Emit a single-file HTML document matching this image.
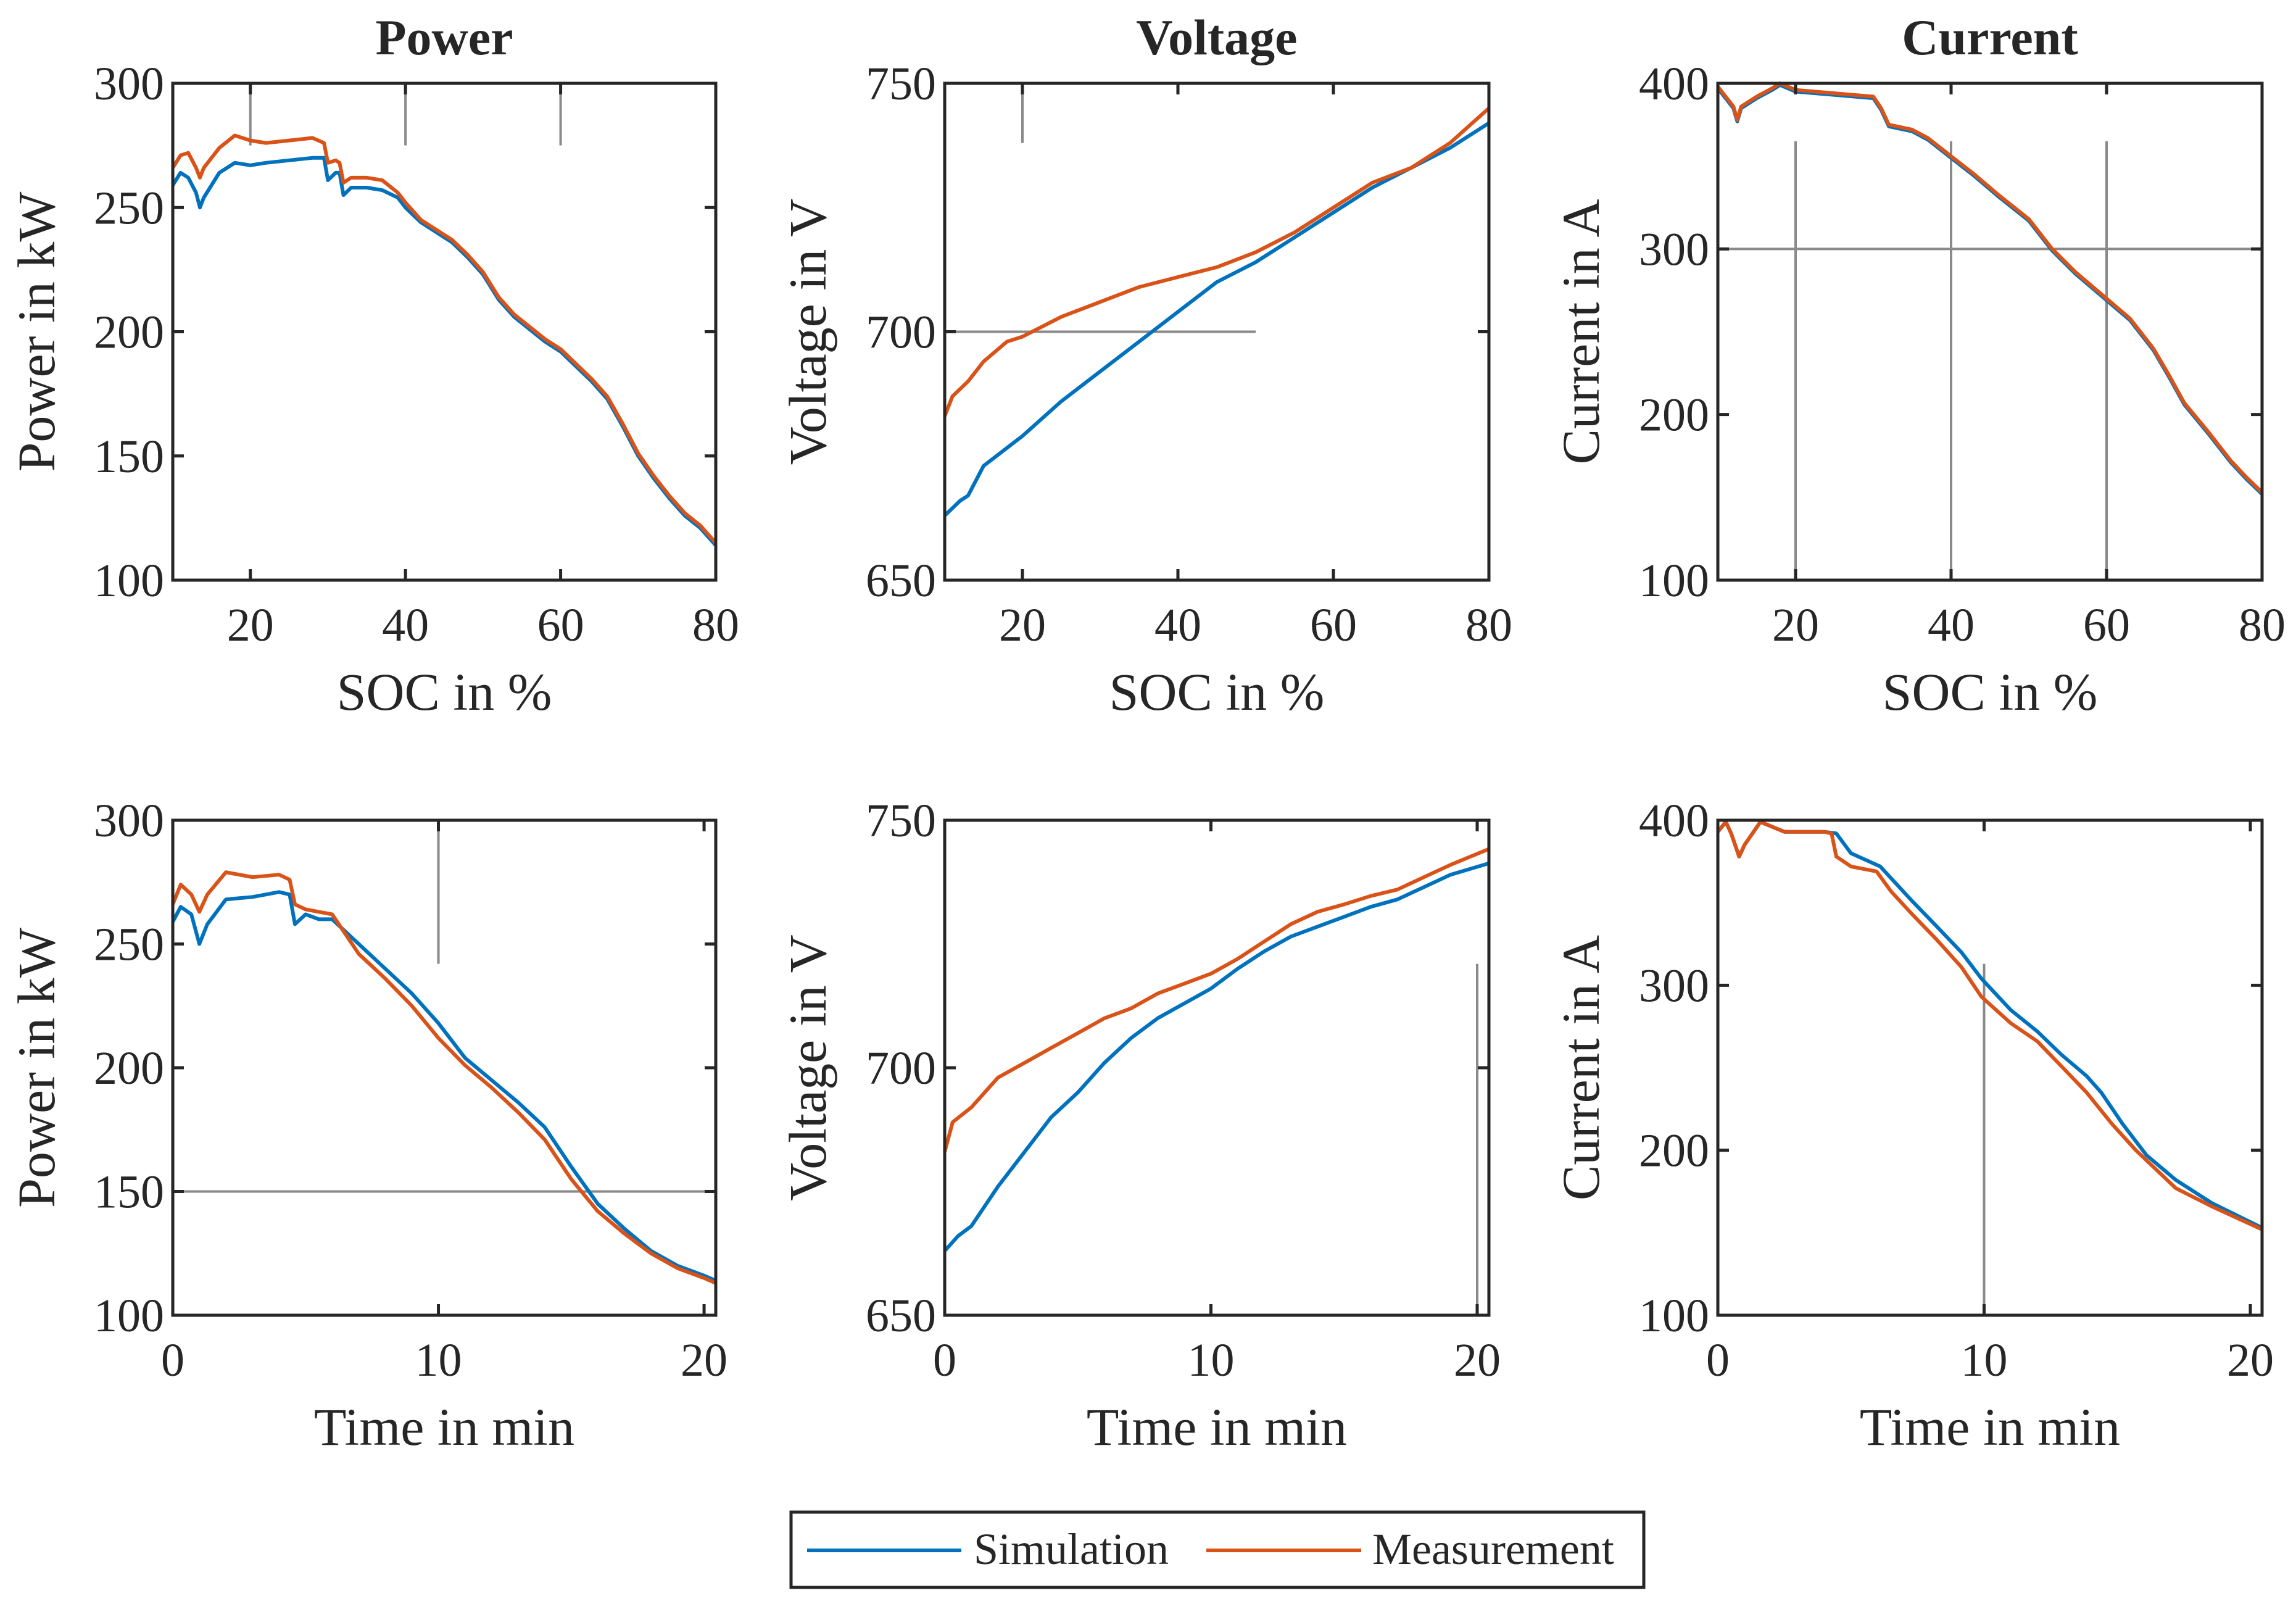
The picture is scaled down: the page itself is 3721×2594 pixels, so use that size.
<!DOCTYPE html>
<html><head><meta charset="utf-8">
<style>
html,body{margin:0;padding:0;background:#fff;}
svg{display:block;}
text{font-family:"Liberation Serif",serif;fill:#262626;}
</style></head>
<body>
<svg id="fig" width="3721" height="2594" viewBox="0 0 3721 2594" xmlns="http://www.w3.org/2000/svg"></svg>
<script>
// ---- data ----
const socP = [10,11,12,13,13.5,14,16,18,20,22,25,28,29.5,30,31,31.5,32,33,35,37,39,40,42,44,46,48,50,52,54,56,58,60,62,64,66,68,70,72,74,76,78,80];
const powSimSoc = [259,264,262,256,250,254,264,268,267,268,269,270,270,261,264,264,255,258,258,257,254,250,244,240,236,230,223,213,206,201,196,192,186,180,173,162,150,141,133,126,121,114];
const powMeasSoc = [266,271,272,266,262,266,274,279,277,276,277,278,276,268,269,268,260,262,262,261,256,252,245,241,237,231,224,214,207,202,197,193,187,181,174,163,151,142,134,127,122,115];
const tP = [0,0.3,0.7,1.0,1.3,2,3,4,4.4,4.6,5,5.5,6,7,8,9,10,11,12,13,14,15,16,17,18,19,20,20.44];
const powSimT = [259,265,262,250,258,268,269,271,270,258,262,260,260,250,240,230,218,204,195,186,176,160,145,135,126,120,116,114];
const powMeasT = [266,274,270,263,270,279,277,278,276,266,264,263,262,246,236,225,212,201,192,182,171,155,142,133,125,119,115,113];
const socV = [10,12,13,15,20,25,30,35,40,45,50,55,60,65,70,75,80];
const voltSimSoc = [663,666,667,673,679,686,692,698,704,710,714,719,724,729,733,737,742];
const socVm = [10,11,13,15,18,20,25,30,35,40,45,50,55,60,65,70,75,80];
const voltMeasSoc = [683,687,690,694,698,699,703,706,709,711,713,716,720,725,730,733,738,745];
const tV = [0,0.5,1,2,3,4,5,6,7,8,9,10,11,12,13,14,15,16,17,18,19,20.44];
const voltSimT = [663,666,668,676,683,690,695,701,706,710,713,716,720,723.5,726.5,728.5,730.5,732.5,734,736.5,739,741.3];
const tVm = [0,0.3,1,2,3,4,5,6,7,8,9,10,11,12,13,14,15,16,17,18,19,20.44];
const voltMeasT = [683,689,692,698,701,704,707,710,712,715,717,719,722,725.5,729,731.5,733,734.7,736,738.5,741,744.2];
const socI = [10,11,12,12.5,13,15,17,18,20,25,30,31,32,35,37,40,43,46,50,53,56,60,63,66,68,70,73,76,78,80];
const curMeasSoc = [398,392,386,378,386,392,397,400,396,394,392,385,375,372,367,356,345,333,318,300,286,270,258,240,224,207,190,172,162,153];
const curSimSoc = [397,391,385,377,385,391,396,399,395,393,391,384,374,371,366,355,344,332,317,299,285,269,257,239,223,206,189,171,161,152];
const tI = [0,0.3,0.5,0.8,1.0,1.6,2.5,4,4.45,5.0,6.1,7.3,8.2,9.15,9.9,11,12,12.9,13.85,14.4,15.2,16.1,17.2,18.55,20.44];
const curSimT = [393,399,392,378,385,399,393,393,392,380,372,351,336,320,304,285,272,258,245,235,216,197,182,168,153];
const tIm = [0,0.3,0.5,0.8,1.0,1.6,2.5,4,4.27,4.45,5.0,5.96,6.5,7.3,8.2,9.15,9.9,11,12,12.9,13.85,14.8,15.7,17.2,18.55,20.44];
const curMeasT = [393,399,392,378,385,399,393,393,392,378,372,369,357,343,328,311,293,277,266,251,235,216,200,177,166,152];
const socTicks = [20,40,60,80];
const timeTicks = [0,10,20];
const powTicks = [100,150,200,250,300];
const voltTicks = [650,700,750];
const curTicks = [100,200,300,400];

const NS='http://www.w3.org/2000/svg';
const svg=document.getElementById('fig');
function el(tag,attrs,parent){const e=document.createElementNS(NS,tag);for(const k in attrs)e.setAttribute(k,attrs[k]);(parent||svg).appendChild(e);return e;}
const BLUE='#0072BD',ORANGE='#D95319',AX='#262626';

function panel(o){
  const g=el('g',{});
  
  
  const L=o.x0,R=o.x1,T=o.y0,B=o.y1;
  const sx=v=>L+(v-o.xmin)/(o.xmax-o.xmin)*(R-L);
  const sy=v=>B-(v-o.ymin)/(o.ymax-o.ymin)*(B-T);
  (o.refs||[]).forEach(r=>{
    const l=el('line',{x1:sx(r[0]),y1:sy(r[1]),x2:sx(r[2]),y2:sy(r[3]),stroke:'#8a8a8a','stroke-width':4},g);
    
    
  });
  o.series.forEach(s=>{
    const d=s.x.map((v,i)=>(i?'L':'M')+sx(v).toFixed(1)+','+sy(s.y[i]).toFixed(1)).join('');
    const p=el('path',{d:d,fill:'none',stroke:s.c,'stroke-width':6,'stroke-linejoin':'round'},g);
    
    
  });
  const box=el('rect',{x:L,y:T,width:R-L,height:B-T,fill:'none',stroke:AX,'stroke-width':5},g);
  
  
  o.xt.forEach(v=>{
    const x=sx(v);
    el('line',{x1:x,y1:B,x2:x,y2:B-18,stroke:AX,'stroke-width':5},g);
    el('line',{x1:x,y1:T,x2:x,y2:T+18,stroke:AX,'stroke-width':5},g);
    const t=el('text',{x:x,y:B+98,'font-size':76,'text-anchor':'middle'},g);
    t.textContent=v;
    
    
  });
  o.yt.forEach(v=>{
    const y=sy(v);
    el('line',{x1:L,y1:y,x2:L+18,y2:y,stroke:AX,'stroke-width':5},g);
    el('line',{x1:R,y1:y,x2:R-18,y2:y,stroke:AX,'stroke-width':5},g);
    const t=el('text',{x:L-14,y:y+26,'font-size':76,'text-anchor':'end'},g);
    t.textContent=v;
    
    
  });
  const xl=el('text',{x:(L+R)/2,y:B+210,'font-size':86,'text-anchor':'middle'},g);
  xl.textContent=o.xlabel;
  
  
  const yc=(T+B)/2;
  const yl=el('text',{x:o.ylx,y:yc,'font-size':86,'text-anchor':'middle',transform:'rotate(-90 '+o.ylx+' '+yc+')'},g);
  yl.textContent=o.ylabel;
  
  
  if(o.title){
    const tt=el('text',{x:(L+R)/2,y:88,'font-size':82,'font-weight':'bold','text-anchor':'middle'},g);
    tt.textContent=o.title;
    
    
  }
}
const cols=[[280,1160],[1531,2413],[2784,3666]];
const rowTop=[135,940],rowBot=[1329,2131];
panel({name:'power-soc-panel',x0:cols[0][0],x1:cols[0][1],y0:rowTop[0],y1:rowTop[1],xmin:10,xmax:80,ymin:100,ymax:300,xt:socTicks,yt:powTicks,xlabel:'SOC in %',ylabel:'Power in kW',ylx:88,title:'Power',
  refs:[[20,300,20,275],[40,300,40,275],[60,300,60,275]],
  series:[{n:'simulation-line',c:BLUE,x:socP,y:powSimSoc},{n:'measurement-line',c:ORANGE,x:socP,y:powMeasSoc}]});
panel({name:'voltage-soc-panel',x0:cols[1][0],x1:cols[1][1],y0:rowTop[0],y1:rowTop[1],xmin:10,xmax:80,ymin:650,ymax:750,xt:socTicks,yt:voltTicks,xlabel:'SOC in %',ylabel:'Voltage in V',ylx:1338,title:'Voltage',
  refs:[[20,750,20,738],[10,700,50,700]],
  series:[{n:'simulation-line',c:BLUE,x:socV,y:voltSimSoc},{n:'measurement-line',c:ORANGE,x:socVm,y:voltMeasSoc}]});
panel({name:'current-soc-panel',x0:cols[2][0],x1:cols[2][1],y0:rowTop[0],y1:rowTop[1],xmin:10,xmax:80,ymin:100,ymax:400,xt:socTicks,yt:curTicks,xlabel:'SOC in %',ylabel:'Current in A',ylx:2591,title:'Current',
  refs:[[20,365,20,100],[40,365,40,100],[60,365,60,100],[10,300,80,300]],
  series:[{n:'simulation-line',c:BLUE,x:socI,y:curSimSoc},{n:'measurement-line',c:ORANGE,x:socI,y:curMeasSoc}]});
panel({name:'power-time-panel',x0:cols[0][0],x1:cols[0][1],y0:rowBot[0],y1:rowBot[1],xmin:0,xmax:20.44,ymin:100,ymax:300,xt:timeTicks,yt:powTicks,xlabel:'Time in min',ylabel:'Power in kW',ylx:88,
  refs:[[10,300,10,242],[0,150,20.44,150]],
  series:[{n:'simulation-line',c:BLUE,x:tP,y:powSimT},{n:'measurement-line',c:ORANGE,x:tP,y:powMeasT}]});
panel({name:'voltage-time-panel',x0:cols[1][0],x1:cols[1][1],y0:rowBot[0],y1:rowBot[1],xmin:0,xmax:20.44,ymin:650,ymax:750,xt:timeTicks,yt:voltTicks,xlabel:'Time in min',ylabel:'Voltage in V',ylx:1338,
  refs:[[20,721,20,650]],
  series:[{n:'simulation-line',c:BLUE,x:tV,y:voltSimT},{n:'measurement-line',c:ORANGE,x:tVm,y:voltMeasT}]});
panel({name:'current-time-panel',x0:cols[2][0],x1:cols[2][1],y0:rowBot[0],y1:rowBot[1],xmin:0,xmax:20.44,ymin:100,ymax:400,xt:timeTicks,yt:curTicks,xlabel:'Time in min',ylabel:'Current in A',ylx:2591,
  refs:[[10,313,10,100]],
  series:[{n:'simulation-line',c:BLUE,x:tI,y:curSimT},{n:'measurement-line',c:ORANGE,x:tIm,y:curMeasT}]});
</script>
<svg style="position:absolute;left:0;top:0" width="3721" height="2594">
  <g>
    <rect x="1282" y="2450" width="1382" height="122" fill="#fff" stroke="#262626" stroke-width="5"/>
    <line x1="1308" y1="2512" x2="1558" y2="2512" stroke="#0072BD" stroke-width="6"/>
    <text x="1578" y="2534" font-size="72">Simulation</text>
    <line x1="1955" y1="2512" x2="2206" y2="2512" stroke="#D95319" stroke-width="6"/>
    <text x="2224" y="2534" font-size="72">Measurement</text>
  </g>
</svg>
</body></html>
